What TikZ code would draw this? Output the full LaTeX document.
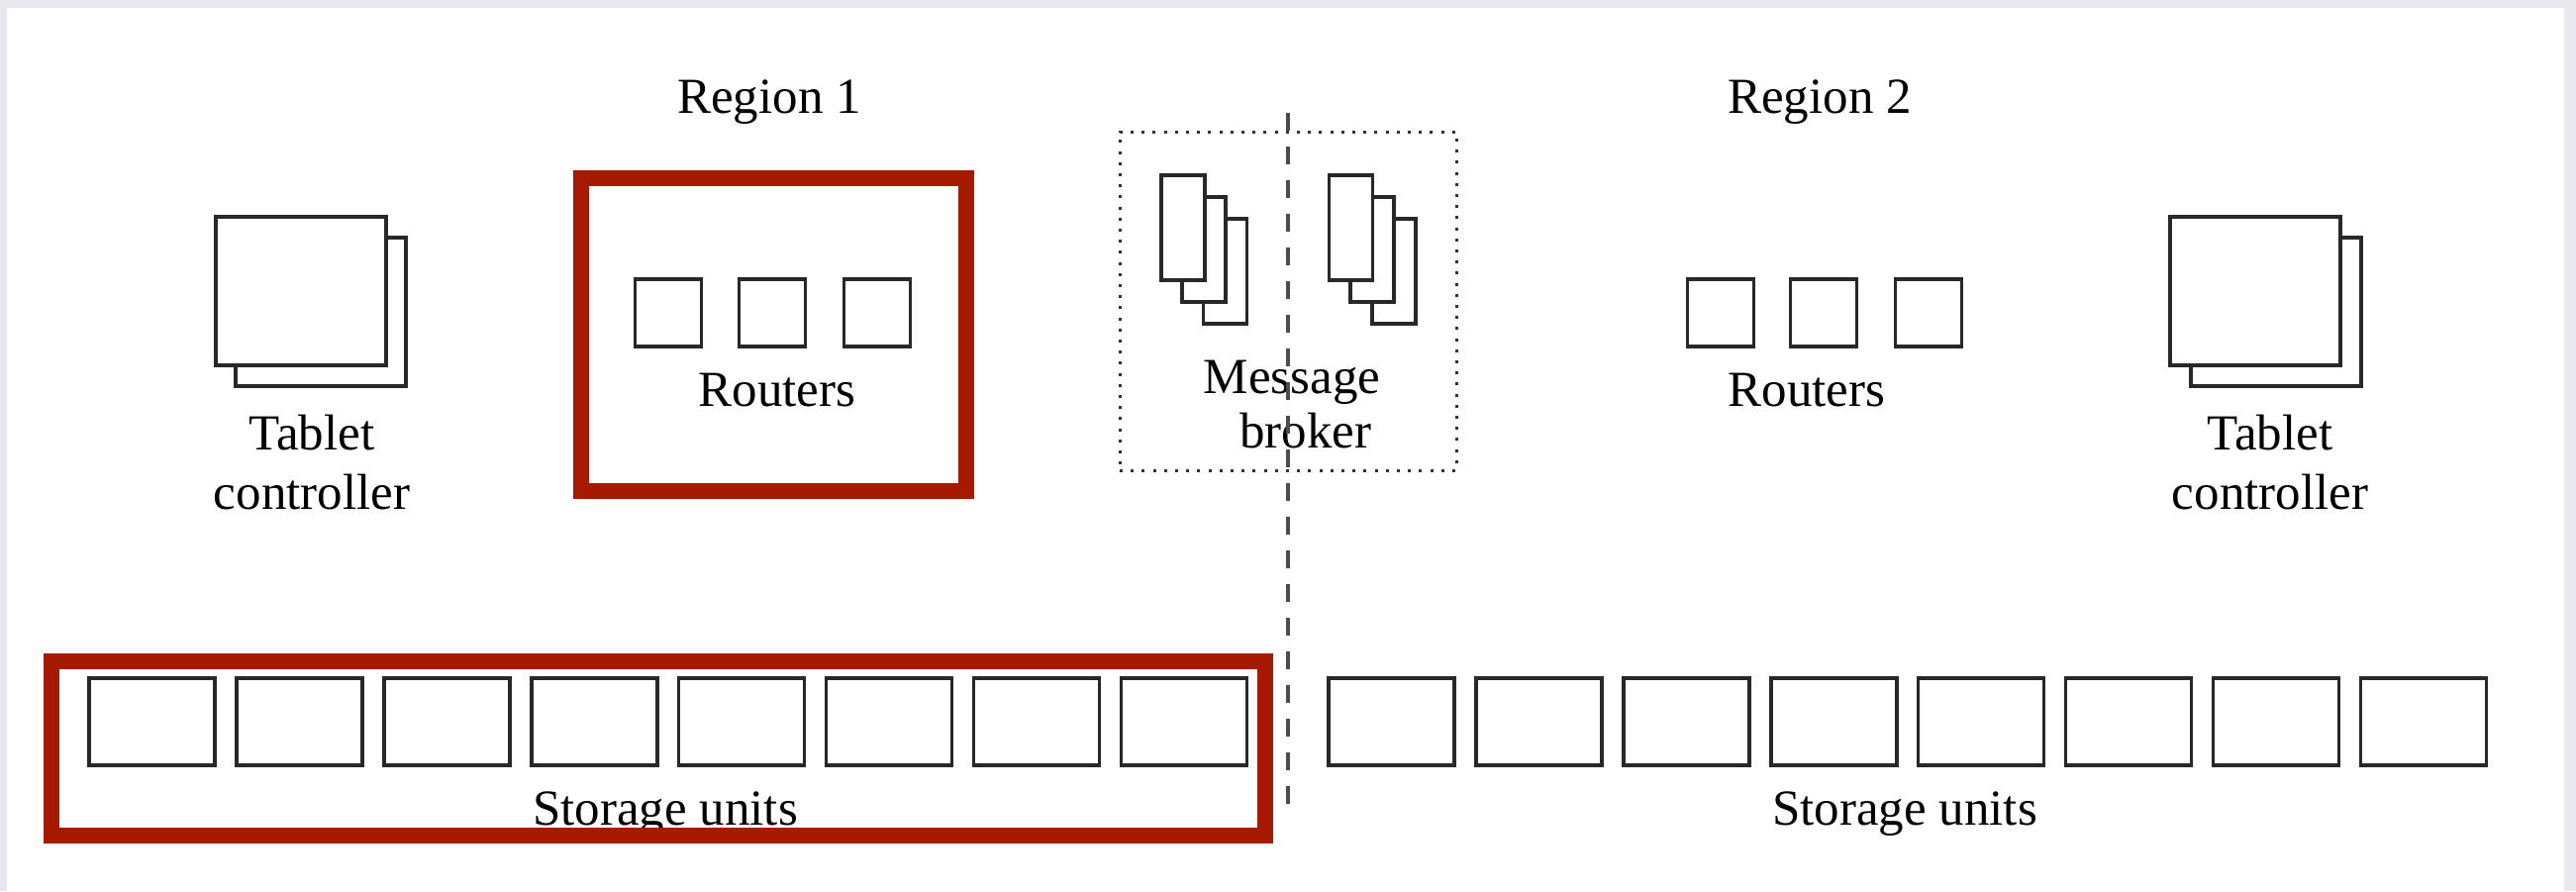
\documentclass[tikz,border=0pt]{standalone}
\usepackage{fontspec}
\setmainfont{Liberation Serif}
\definecolor{hlred}{RGB}{165,26,0}
\definecolor{pagegray}{RGB}{232,232,238}
\definecolor{boxline}{RGB}{40,40,40}
\begin{document}
\begin{tikzpicture}[x=0.5pt,y=-0.5pt,
  shape box/.style={draw=boxline, line width=1.8pt, fill=white, inner sep=0pt},
  tabbox/.style={shape box, minimum width=86pt, minimum height=75pt},
  router/.style={shape box, minimum width=33.5pt, minimum height=34pt},
  brk/.style={shape box, minimum width=22pt, minimum height=53pt},
  store/.style={shape box, minimum width=63.5pt, minimum height=44pt},
  lbl/.style={font=\fontsize{25.5pt}{30pt}\selectfont, inner sep=0pt, align=center, text=black},
  redbox/.style={draw=hlred, line width=8pt},
  divider/.style={draw=black!70, line width=1.7pt, dash pattern=on 9pt off 8pt},
  dotbox/.style={draw=black!80, line width=1.5pt, dash pattern=on 1.5pt off 4.1pt}]
% background
\fill[pagegray] (0,0) rectangle (2602,900);
\fill[white] (7,8) rectangle (2590,900);
\useasboundingbox (0,0) rectangle (2602,900);

% region titles
\node[lbl, anchor=base] (reg1) at (777,114) {Region 1};
\node[lbl, anchor=base] (reg2) at (1838,114) {Region 2};

% tablet controllers
\node[tabbox] (tclb) at (324,315) {};
\node[tabbox] (tclf) at (304,294) {};
\node[lbl, anchor=north] (tcl) at (315,419) {Tablet\\controller};
\node[tabbox] (tcrb) at (2299,315) {};
\node[tabbox] (tcrf) at (2278,294) {};
\node[lbl, anchor=north] (tcr) at (2293,419) {Tablet\\controller};

% routers
\foreach \i/\x in {1/675,2/780,3/886}
  \node[router] (rl\i) at (\x,316) {};
\node[lbl, anchor=base] (rtl) at (785,410) {Routers};
\foreach \i/\x in {1/1738,2/1842,3/1948}
  \node[router] (rr\i) at (\x,316) {};
\node[lbl, anchor=base] (rtr) at (1825,410) {Routers};

% message broker
\node[dotbox, minimum width=170pt, minimum height=171pt, inner sep=0pt] (mbbox) at (1301,304) {};
\node[brk] (bl3) at (1237.5,274) {};
\node[brk] (bl2) at (1216,252) {};
\node[brk] (bl1) at (1195,230) {};
\node[brk] (br3) at (1408,274) {};
\node[brk] (br2) at (1386,252) {};
\node[brk] (br1) at (1364.5,230) {};
\node[lbl, anchor=north, font=\fontsize{25.5pt}{27.5pt}\selectfont] (mb) at (1305,364) {Message\\\hspace*{14pt}broker};

% storage units
\foreach \i in {0,...,7}
  \node[store] (sl\i) at ({153.5+148.9*\i},729) {};
\foreach \i in {0,...,7}
  \node[store] (sr\i) at ({1405.5+148.9*\i},729) {};
\node[lbl, anchor=base] (sul) at (672,833) {Storage units};
\node[lbl, anchor=base] (sur) at (1924,833) {Storage units};

% region divider
\coordinate (dtop) at (1301,114);
\coordinate (dbot) at (1301,812);
\draw[divider] (dtop) -- (dbot);

% highlight boxes
\draw[redbox] (587,180) rectangle (976,496);
\draw[redbox] (52,668) rectangle (1278,844);
\end{tikzpicture}
\end{document}
